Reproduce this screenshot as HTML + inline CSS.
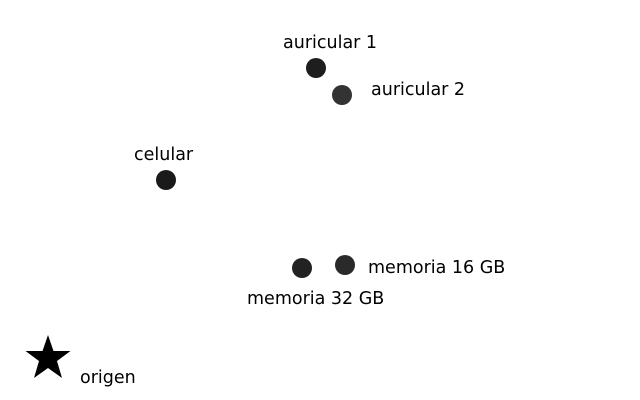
<!DOCTYPE html>
<html><head><meta charset="utf-8"><style>html,body{margin:0;padding:0;background:#fff;}svg{display:block}</style></head>
<body>
<svg width="640" height="400" viewBox="0 0 640 400" xmlns="http://www.w3.org/2000/svg">
<g>
<circle cx="316" cy="68" r="10" fill="#1e1e1e"/>
<circle cx="342" cy="95" r="10" fill="#333"/>
<circle cx="166" cy="180" r="10" fill="#1a1a1a"/>
<circle cx="302" cy="268" r="10" fill="#222"/>
<circle cx="345" cy="265" r="10" fill="#2a2a2a"/>
</g>
<polygon fill="#000" points="48,335 53.5,351 70.5,351 57,361 62,378 48,368 34,378 39,361 25.5,351 42.5,351"/>
<g font-family="DejaVu Sans, Liberation Sans, sans-serif" font-size="17.5" fill="#000">
<text x="283" y="48">auricular 1</text>
<text x="371" y="95">auricular 2</text>
<text x="134" y="160">celular</text>
<text x="368" y="273">memoria 16 GB</text>
<text x="247" y="304">memoria 32 GB</text>
<text x="80" y="383">origen</text>
</g>
</svg>
</body></html>
